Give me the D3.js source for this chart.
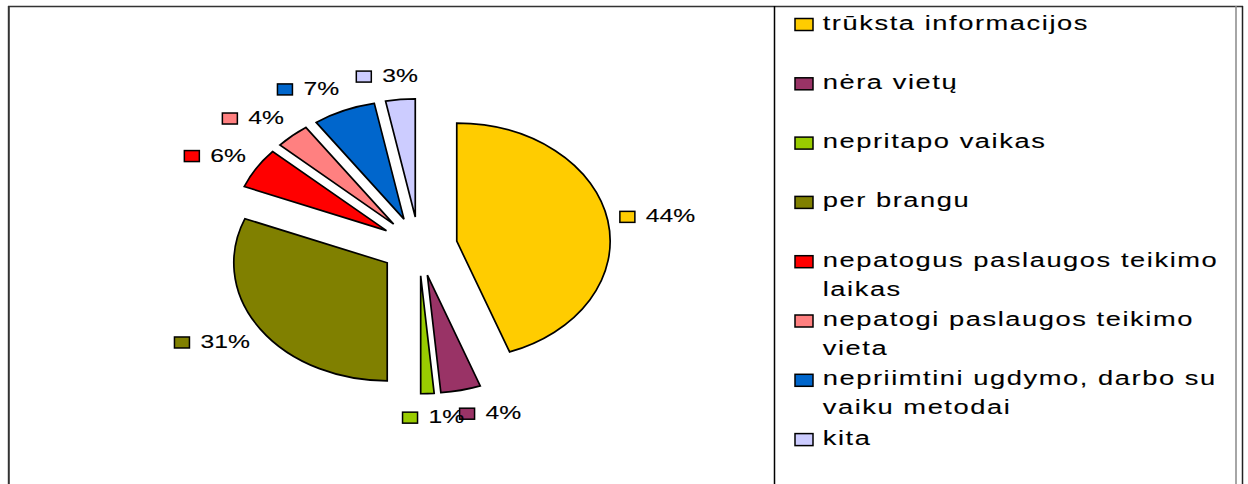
<!DOCTYPE html>
<html>
<head>
<meta charset="utf-8">
<script src="https://cdn.jsdelivr.net/npm/d3@7"></script>
<style>
  html, body { margin: 0; padding: 0; background: #fff; }
  svg { display: block; }
  text { font-family: "Liberation Sans", Arial, sans-serif; fill: #000; stroke: #000; stroke-width: 0.12px; }
</style>
</head>
<body>
<svg id="chart" width="1248" height="484"></svg>
<script>
// ---- data ----
const categories = [
  "trūksta informacijos",
  "nėra vietų",
  "nepritapo vaikas",
  "per brangu",
  "nepatogus paslaugos teikimo laikas",
  "nepatogi paslaugos teikimo vieta",
  "nepriimtini ugdymo, darbo su vaiku metodai",
  "kita"
];
const values = [44.4, 4.2, 1.4, 31.1, 5.6, 3.6, 6.6, 3.1];
const colors = ["#FFCC00", "#993366", "#99CC00", "#808000", "#FF0000", "#FF8080", "#0066CC", "#CCCCFF"];

// ---- layout ----
const W = 1248, H = 484;
const svg = d3.select("#chart");
svg.append("rect").attr("width", W).attr("height", H).attr("fill", "#fff");

const SX = 1.3;           // horizontal stretch of the original picture
const cx = 419, cy = 246.3, R = 118;
const explode = 0.25 * R;
const labelKx = 1.08, labelKy = 1.14;
const fmt = v => d3.format(".0f")(v) + "%";

// frame
const frame = svg.append("g");
frame.append("line").attr("x1", 8).attr("x2", 1243).attr("y1", 6.5).attr("y2", 6.5)
  .attr("stroke", "#333").attr("stroke-width", 1.5);
frame.append("line").attr("x1", 8.8).attr("x2", 8.8).attr("y1", 6).attr("y2", H)
  .attr("stroke", "#333").attr("stroke-width", 2);
frame.append("line").attr("x1", 774.5).attr("x2", 774.5).attr("y1", 6).attr("y2", H)
  .attr("stroke", "#000").attr("stroke-width", 1.5);
frame.append("line").attr("x1", 1236).attr("x2", 1236).attr("y1", 6).attr("y2", H)
  .attr("stroke", "#888").attr("stroke-width", 1.5);
frame.append("line").attr("x1", 1242.5).attr("x2", 1242.5).attr("y1", 6).attr("y2", H)
  .attr("stroke", "#222").attr("stroke-width", 1.5);

// pie
const pie = d3.pie().sort(null).value(d => d)(values);
const arc = d3.arc().innerRadius(0).outerRadius(R);

const slices = svg.append("g");
pie.forEach((p, i) => {
  const mid = (p.startAngle + p.endAngle) / 2;
  const ex = cx + SX * explode * Math.sin(mid);
  const ey = cy - explode * Math.cos(mid);
  slices.append("g")
    .attr("transform", `translate(${ex},${ey}) scale(${SX},1)`)
    .append("path")
    .attr("d", arc(p))
    .attr("fill", colors[i])
    .attr("stroke", "#000")
    .attr("stroke-width", 1.7)
    .attr("stroke-linejoin", "miter")
    .attr("vector-effect", "non-scaling-stroke");
});

// data labels
const labels = svg.append("g");
pie.forEach((p, i) => {
  const mid = (p.startAngle + p.endAngle) / 2;
  const s = Math.sin(mid), c = Math.cos(mid);
  const ex = cx + SX * explode * s;
  const ey = cy - explode * c;
  const ax = ex + SX * labelKx * R * s;
  const ay = ey - labelKy * R * c;
  const g = labels.append("g");
  const tg = g.append("g");
  const t = tg.append("text").attr("font-size", 19).text(fmt(values[i]));
  const tw = t.node().getComputedTextLength() * SX;
  const sqW = 15, sqH = 11, gap = 11, bh = 14;
  const bw = sqW + gap + tw;
  const fx = Math.max(-1, Math.min(1, s * 4));
  const bcx = ax + fx * bw / 2;
  const bcy = ay - c * bh / 2;
  const left = bcx - bw / 2;
  g.insert("rect", ":first-child")
    .attr("x", left).attr("y", bcy - sqH / 2 + 0.5)
    .attr("width", sqW).attr("height", sqH)
    .attr("fill", colors[i]).attr("stroke", "#000").attr("stroke-width", 1.5);
  tg.attr("transform", `translate(${left + sqW + gap},${bcy + 6}) scale(${SX},1)`);
});

// legend
const legend = svg.append("g");
const lgX = 795, lgTextX = 822.7, lgY0 = 24.5, lgStep = 59.3, lineH = 29;
const maxW = 408 / SX;
categories.forEach((name, i) => {
  const yc = lgY0 + i * lgStep;
  legend.append("rect")
    .attr("x", lgX).attr("y", yc - 6).attr("width", 18).attr("height", 12)
    .attr("fill", colors[i]).attr("stroke", "#000").attr("stroke-width", 1.5);
  const tg = legend.append("g").attr("transform", `translate(${lgTextX},${yc + 5}) scale(${SX},1)`);
  const t = tg.append("text").attr("font-size", 21).attr("letter-spacing", 1.2);
  const words = name.split(" ");
  let line = [], lineNo = 0;
  let tspan = t.append("tspan").attr("x", 0).attr("y", 0);
  words.forEach(w => {
    line.push(w);
    tspan.text(line.join(" "));
    if (tspan.node().getComputedTextLength() > maxW && line.length > 1) {
      line.pop();
      tspan.text(line.join(" "));
      line = [w];
      lineNo++;
      tspan = t.append("tspan").attr("x", 0).attr("y", lineNo * lineH).text(w);
    }
  });
});
</script>
</body>
</html>
